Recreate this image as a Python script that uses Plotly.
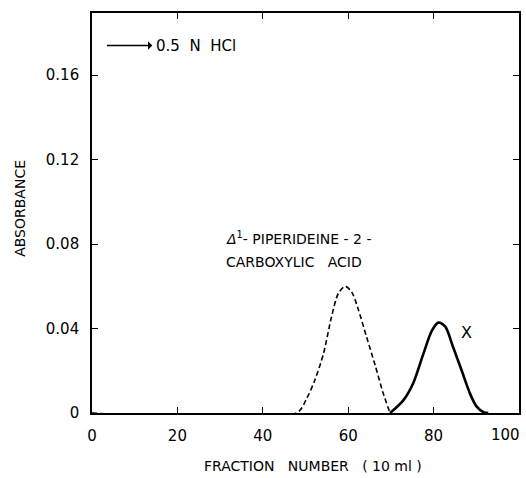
import plotly.graph_objects as go

# Dashed peak: Δ1-piperideine-2-carboxylic acid
acid_x = [0, 47.9, 50.3, 52.2, 54.2, 56.1, 57.7, 59.3, 60.8, 62.4, 64.3, 66.3, 68.2, 69.8]
acid_y = [0, 0.0, 0.007, 0.0156, 0.028, 0.0456, 0.0567, 0.060, 0.0574, 0.0488, 0.036, 0.0227, 0.0093, 0.0]

# Solid peak: X
x_x = [69.8, 72.9, 75.2, 77.6, 79.6, 81.1, 82.7, 84.6, 86.6, 88.5, 90.1, 91.8, 92.8]
x_y = [0.0, 0.006, 0.014, 0.028, 0.039, 0.0428, 0.041, 0.031, 0.020, 0.0093, 0.003, 0.0003, 0.0]

x_ticks = [0, 20, 40, 60, 80, 100]
x_tick_labels = ["0", "20", "40", "60", "80", "100"]
y_ticks = [0, 0.04, 0.08, 0.12, 0.16]
y_tick_labels = ["0", "0.04", "0.08", "0.12", "0.16"]

FONT = "DejaVu Sans, Verdana, sans-serif"

fig = go.Figure()
fig.add_trace(go.Scatter(x=acid_x, y=acid_y, mode="lines",
                         line=dict(color="black", width=1.6, dash="5px,3px", shape="spline", smoothing=0.8),
                         showlegend=False, hoverinfo="skip"))
fig.add_trace(go.Scatter(x=x_x, y=x_y, mode="lines",
                         line=dict(color="black", width=2.6, shape="spline", smoothing=0.8),
                         showlegend=False, hoverinfo="skip"))

fig.update_layout(
    width=526, height=478,
    margin=dict(l=92, r=7, t=13, b=65),
    plot_bgcolor="white", paper_bgcolor="white",
    font=dict(family=FONT, size=14, color="black"),
    xaxis=dict(range=[0, 100], tickvals=x_ticks[:-1], ticktext=x_tick_labels[:-1],
               ticks="inside", ticklen=6, tickwidth=1.2, tickcolor="black",
               showline=True, linecolor="black", linewidth=1.6, mirror="ticks",
               showgrid=False, zeroline=False, ticklabelstandoff=8, automargin=False,
               tickfont=dict(size=15)),
    yaxis=dict(range=[0, 0.1894], tickvals=y_ticks, ticktext=y_tick_labels,
               ticks="inside", ticklen=6, tickwidth=1.2, tickcolor="black",
               showline=True, linecolor="black", linewidth=1.6, mirror="ticks",
               showgrid=False, zeroline=False, ticklabelstandoff=8, automargin=False,
               tickfont=dict(size=15)),
)

# last x tick label, pulled inside the page like in the reference
fig.add_annotation(x=x_ticks[-1], y=-0.055, xref="x", yref="paper", text=x_tick_labels[-1],
                   showarrow=False, xanchor="right", yanchor="middle", xshift=3, font=dict(size=15))

# arrow pointing at the eluent label
fig.add_annotation(x=3.5, y=0.174, ax=24.3, ay=0.174, xref="x", yref="y", axref="x", ayref="y",
                   text="0.5  N  HCl", showarrow=True, arrowside="start", arrowhead=2, arrowsize=1,
                   arrowwidth=1.4, arrowcolor="black", standoff=0, startstandoff=3,
                   font=dict(size=15), borderpad=0)

fig.add_annotation(x=31.0, y=0.0829, xref="x", yref="y",
                   text="<i>Δ</i><sup>1</sup>- PIPERIDEINE - 2 -",
                   showarrow=False, xanchor="left", yanchor="middle", font=dict(size=14))
fig.add_annotation(x=31.0, y=0.0715, xref="x", yref="y", text="CARBOXYLIC   ACID",
                   showarrow=False, xanchor="left", yanchor="middle", font=dict(size=14))

fig.add_annotation(x=87.8, y=0.038, xref="x", yref="y", text="X",
                   showarrow=False, xanchor="center", yanchor="middle", font=dict(size=16))

fig.add_annotation(x=-0.169, y=0.5125, xref="paper", yref="paper", text="ABSORBANCE",
                   textangle=-90, showarrow=False, xanchor="center", yanchor="middle", font=dict(size=14))
fig.add_annotation(x=0.518, y=-0.1325, xref="paper", yref="paper", text="FRACTION   NUMBER   ( 10 ml )",
                   showarrow=False, xanchor="center", yanchor="middle", font=dict(size=14))

fig.write_html("out.html")
